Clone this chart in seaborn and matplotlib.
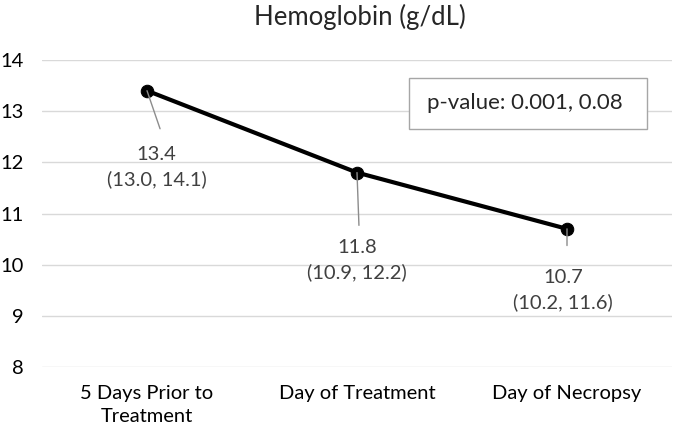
import matplotlib.pyplot as plt
from matplotlib.patches import Rectangle
import seaborn as sns

timepoints = ["5 Days Prior to\nTreatment", "Day of Treatment", "Day of Necropsy"]
median = [13.4, 11.8, 10.7]
lower = [13.0, 10.9, 10.2]
upper = [14.1, 12.2, 11.6]
pvalue_text = "p-value: 0.001, 0.08"

sns.set_style("white")
plt.rcParams['font.family'] = ['Lato', 'DejaVu Sans']

fig = plt.figure(figsize=(6.75, 4.32), dpi=100)
ax = fig.add_axes([42 / 675, 1 - 367 / 432, 630 / 675, 307 / 432])

sns.lineplot(x=timepoints, y=median, ax=ax, color='black', lw=3,
             marker='o', markersize=9, markeredgecolor='black', clip_on=False, zorder=3)

# label offsets (points): leader-line end, text centre
leader = [(9.4, -27.4), (1.4, -38), (0, -12)]
label_pos = [(7, -55), (0, -63), (-3, -44)]
for i, (m, lo, hi) in enumerate(zip(median, lower, upper)):
    ax.annotate('', xy=(i, m), xytext=leader[i], textcoords='offset points',
                arrowprops=dict(arrowstyle='-', color='#8c8c8c', lw=1,
                                shrinkA=0, shrinkB=0))
    ax.annotate(f"{m:.1f}\n({lo:.1f}, {hi:.1f})", xy=(i, m), xytext=label_pos[i],
                textcoords='offset points', ha='center', va='center',
                fontsize=14.5, color='#404040', linespacing=1.45)

ax.set_ylim(8, 14)
ax.set_xlim(-0.5, 2.5)
ax.set_yticks(range(8, 15))
ax.grid(axis='y', color='#d9d9d9', lw=1)
ax.set_axisbelow(True)
for s in ax.spines.values():
    s.set_visible(False)
ax.tick_params(axis='both', length=0, labelsize=14.5, colors='black')
ax.tick_params(axis='y', pad=13)
ax.tick_params(axis='x', pad=13)
for lbl in ax.get_xticklabels():
    lbl.set_linespacing(1.45)

ax.add_patch(Rectangle((0.582, 0.775), 0.378, 0.165, transform=ax.transAxes,
                       fc='white', ec='#a6a6a6', lw=1, zorder=4))
ax.text(0.611, 0.860, pvalue_text, transform=ax.transAxes, fontsize=16,
        va='center', ha='left', zorder=5)

fig.suptitle("Hemoglobin (g/dL)", x=360 / 675, y=0.99, fontsize=18.5, va='top')

fig.savefig("out.png", dpi=100)
